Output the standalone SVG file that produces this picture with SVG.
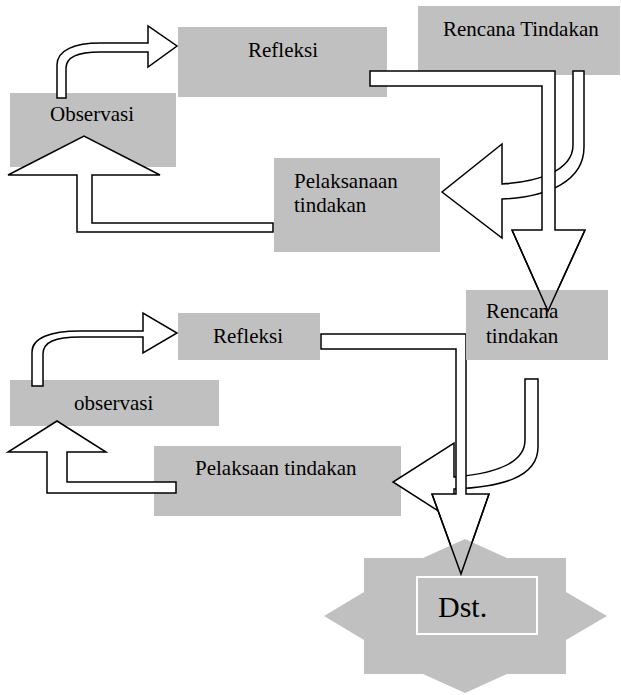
<svg xmlns="http://www.w3.org/2000/svg" width="621" height="695" viewBox="0 0 621 695">
<style>
.box{fill:#c0c0c0;}
text{font-size:21px;fill:#000;}
.arr{fill:#fff;stroke:#000;stroke-width:1.5;stroke-linejoin:miter;}
.ol{fill:none;stroke:#000;stroke-width:1.5;}
</style>
<rect width="621" height="695" fill="#fff"/>
<g font-family="'Liberation Serif', 'Times New Roman', 'DejaVu Serif', serif">
<g id="refleksi1"><rect class="box" x="178" y="27" width="209" height="70"/><text x="248" y="57">Refleksi</text></g>
<g id="observasi1"><rect class="box" x="10" y="93" width="166" height="74"/><text x="50" y="121">Observasi</text></g>
<g id="rencana1"><rect class="box" x="418" y="6" width="202" height="69"/><text x="443" y="36">Rencana Tindakan</text></g>
<g id="pelaksanaan1"><rect class="box" x="274" y="158" width="166" height="94"/><text x="294" y="188">Pelaksanaan</text><text x="294" y="212">tindakan</text></g>
<g id="refleksi2"><rect class="box" x="178" y="313" width="142" height="47"/><text x="213" y="343">Refleksi</text></g>
<g id="observasi2"><rect class="box" x="10" y="380" width="209" height="46"/><text x="74" y="410">observasi</text></g>
<g id="pelaksaan2"><rect class="box" x="154" y="446" width="247" height="70"/><text x="195" y="475">Pelaksaan tindakan</text></g>
<g id="connectors">
<path class="arr" d="M57,98 L57,65 C57,50 75,43 100,43 L148,43 L148,26 L177,46 L148,67 L148,52 L100,52 C80,52 66,56 66,68 L66,98 Z"/>
<path class="arr" d="M273,223 L92,223 L92,175 L160,175 L84,136 L8,175 L77,175 L77,232 L273,232 Z"/>
<path class="arr" d="M502,144 L502,184 C535,182 573,172 573,145 L573,71 L584,71 L584,147 C584,180 550,197 502,199 L502,238 L442,192 Z"/>
<path id="c1" class="arr" d="M370,71 L555,71 L555,230 L585,230 L548,311 L512,230 L542,230 L542,86 L370,86 Z"/>
<path class="arr" d="M32,386 L32,352 C32,338 50,331 80,331 L143,331 L143,313 L177,333 L143,353 L143,337 L80,337 C55,337 43,342 43,354 L43,386 Z"/>
<path class="arr" d="M176,482 L67,482 L67,452 L106,452 L57,421 L8,452 L47,452 L47,493 L176,493 Z"/>
<path class="arr" d="M454,443 L454,477 C490,474 525,465 525,440 L525,379 L538,379 L538,447 C538,478 500,487 454,489 L454,521 L393,482 Z"/>
<path id="c2" class="arr" d="M321,334 L466,334 L466,494 L489,494 L461,574 L432,494 L456,494 L456,349 L321,349 Z"/>
</g>
<g id="rencana2"><rect class="box" x="466" y="290" width="142" height="70"/><text x="486" y="318">Rencana</text><text x="486" y="343">tindakan</text></g>
<g id="dst">
<polygon class="box" points="465,539 507,558 566,558 566,592 607,616 566,640 566,674 507,674 465,693 423,674 364,674 364,640 324,616 364,592 364,558 423,558"/>
<rect x="417" y="577" width="120" height="57" fill="none" stroke="#fff" stroke-width="2"/>
<text x="438" y="617" font-size="30" style="font-size:30px">Dst.</text>
</g>
<g id="connector-outlines">
<path class="ol" d="M512,230 L548,311 L585,230"/>
<path class="ol" d="M432,494 L461,574 L489,494"/>
</g>
</g>
</svg>
